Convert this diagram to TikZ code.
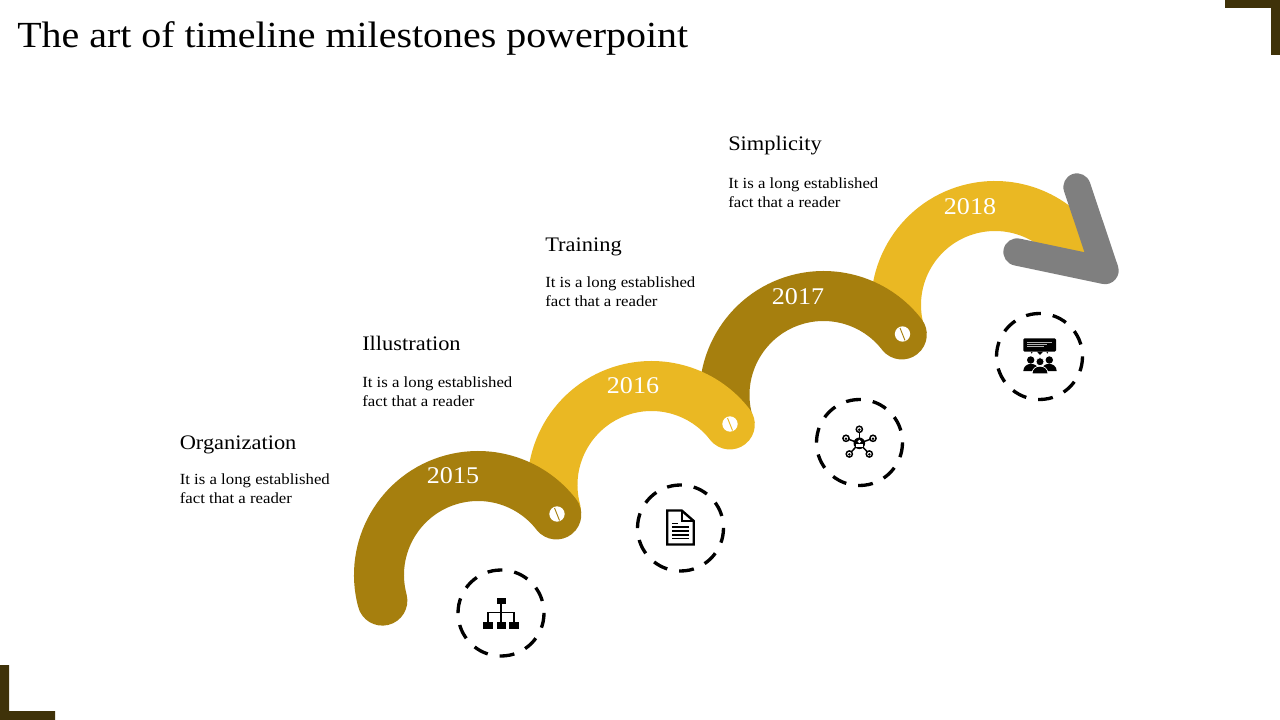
\documentclass[tikz,border=0pt]{standalone}
\usepackage{fontspec}
\setmainfont[FakeStretch=1.085]{Liberation Serif}
\definecolor{darkgold}{HTML}{A67F0E}
\definecolor{lightgold}{HTML}{EAB823}
\definecolor{cornerbrown}{HTML}{3F3209}
\definecolor{arrowgrey}{HTML}{7F7F7F}
\tikzset{
    band/.style={line width=37.5pt, line cap=round},
    pin/.style={circle, fill=white, minimum size=11.5pt, inner sep=0pt},
    slash/.style={line width=0.7pt},
    ring/.style={line width=2.5pt, dash pattern=on 11.2pt off 9.05pt},
    heading/.style={anchor=base west, inner sep=0pt, font=\fontsize{15.5}{18}\selectfont},
    body/.style={anchor=west, inner sep=0pt, align=left, font=\fontsize{11.6}{14.2}\selectfont},
    year/.style={text=white, inner sep=0pt, font=\fontsize{18}{20}\selectfont},
    spoke/.style={line width=1.1pt},
    member/.style={line width=1.1pt, fill=white},
}

\begin{document}
\begin{tikzpicture}[x=0.75pt, y=-0.75pt]
    \useasboundingbox (0,0) rectangle (1280,720);
    \node [anchor=base west, inner sep=0pt, font=\fontsize{27.6}{30}\selectfont] (title) at (17,47.5) {The art of timeline milestones powerpoint};
    % corners
    \fill [cornerbrown] (1225,0) -- (1280,0) -- (1280,55) -- (1271,55) -- (1271,8) -- (1225,8) -- cycle;
    \fill [cornerbrown] (0,665) -- (9,665) -- (9,711) -- (55,711) -- (55,720) -- (0,720) -- cycle;
    % bands, last one first
    \draw [line width=37.5pt, lightgold] (995,305) ++(165:99) arc [start angle=165, end angle=330, radius=99];
    \draw [line width=20.5pt, arrowgrey, line cap=round, line join=round] (1077,187) -- (1105,270.5) -- (1017,252);
    \draw [band, darkgold] (823.5,395) ++(165:99) arc [start angle=165, end angle=322.3, radius=99];
    \draw [band, lightgold] (651.5,485) ++(165:99) arc [start angle=165, end angle=322.3, radius=99];
    \draw [band, darkgold] (478,575) ++(165:99) arc [start angle=165, end angle=322.3, radius=99];
    % pins
    \node [pin] (pin15) at (557,514) {};
    \draw [slash, darkgold] (554.5,508) -- (559.5,520.5);
    \node [pin] (pin16) at (730,424) {};
    \draw [slash, lightgold] (727.5,418) -- (732.5,430.5);
    \node [pin] (pin17) at (902.5,334) {};
    \draw [slash, darkgold] (900,328) -- (905,340.5);
    % years
    \node [year] (y15) at (453,476) {2015};
    \node [year] (y16) at (633,386) {2016};
    \node [year] (y17) at (798,297) {2017};
    \node [year] (y18) at (970,207) {2018};
    % texts
    \node [heading] (org) at (179.5,449) {Organization};
    \node [body] (orgtext) at (179.5,488.5) {It is a long established\\fact that a reader};
    \node [heading] (ill) at (362,350) {Illustration};
    \node [body] (illtext) at (362,391.5) {It is a long established\\fact that a reader};
    \node [heading] (tra) at (545,252) {Training};
    \node [body] (tratext) at (545,291.5) {It is a long established\\fact that a reader};
    \node [heading] (sim) at (728,151) {Simplicity};
    \node [body] (simtext) at (728,192.5) {It is a long established\\fact that a reader};
    % rings
    \draw [ring] (501,613) circle [radius=43];
    \draw [ring] (680.5,528) circle [radius=43];
    \draw [ring] (859.5,442.5) circle [radius=43];
    \draw [ring] (1039.5,356.5) circle [radius=43];
    % organisation chart
    \fill (496.7,598) rectangle (505.7,604);
    \fill (483.3,622.3) rectangle (492.7,628.7);
    \fill (496.7,622.3) rectangle (505.7,628.7);
    \fill (509.3,622.3) rectangle (518.7,628.7);
    \draw [line width=0.8pt] (501,604) -- (501,622.3);
    \draw [line width=0.8pt] (488,622.3) -- (488,612.7) -- (514,612.7) -- (514,622.3);
    % document
    \draw [line width=1.8pt, line join=miter] (681.7,510.5) -- (667.2,510.5) -- (667.2,544.5) -- (693.7,544.5) -- (693.7,521) -- cycle;
    \draw [line width=1.4pt] (681.7,510.5) -- (681.7,521) -- (693.7,521);
    \draw [line width=1.2pt] (672.3,523.3) -- (677.7,523.3);
    \draw [line width=1.2pt] (672.3,527.2) -- (689,527.2);
    \draw [line width=1.2pt] (672.3,531) -- (689,531);
    \draw [line width=1.2pt] (672.3,534.7) -- (689,534.7);
    \draw [line width=1.2pt] (672.3,538.4) -- (689,538.4);
    % network
    \draw [spoke] (859.3,443.3) -- (859.3,429.3);
    \draw [spoke] (859.3,443.3) -- (873,438.3);
    \draw [spoke] (859.3,443.3) -- (869.3,454);
    \draw [spoke] (859.3,443.3) -- (849.3,454);
    \draw [spoke] (859.3,443.3) -- (846,438.3);
    \draw [member] (859.3,429.3) circle [radius=3.1];
    \draw [member] (873,438.3) circle [radius=3.1];
    \draw [member] (869.3,454) circle [radius=3.1];
    \draw [member] (849.3,454) circle [radius=3.1];
    \draw [member] (846,438.3) circle [radius=3.1];
    \fill (859.3,443.3) circle [radius=5.8];
    \fill [white] (859.3,441.5) circle [radius=1.7];
    \fill [white] (855.8,446.8) rectangle (862.8,444.3);
    \fill (859.3,429.7) circle [radius=1.4];
    \fill (873,438.7) circle [radius=1.4];
    \fill (869.3,454.4) circle [radius=1.4];
    \fill (849.3,454.4) circle [radius=1.4];
    \fill (846,438.7) circle [radius=1.4];
    % meeting
    \fill [rounded corners=1pt] (1023.3,338.3) rectangle (1056,351.7);
    \fill (1037,351.7) -- (1043,351.7) -- (1040,355) -- cycle;
    \fill (1031.7,352.7) circle [radius=0.8];
    \fill (1047.3,352.7) circle [radius=0.8];
    \draw [white!70!black, line width=0.7pt] (1027,342) -- (1052,342);
    \draw [white!70!black, line width=0.7pt] (1027,344.3) -- (1047,344.3);
    \draw [white!70!black, line width=0.7pt] (1027,346.6) -- (1044,346.6);
    \fill (1030.7,360) circle [radius=3.7];
    \fill (1049.3,360) circle [radius=3.7];
    \fill (1023.3,371) .. controls (1023.5,361.5) and (1038.5,361.5) .. (1038.7,371) -- cycle;
    \fill (1041.3,371) .. controls (1041.5,361.5) and (1056.5,361.5) .. (1056.7,371) -- cycle;
    \draw [white, fill=black, line width=0.5pt] (1032,373.8) .. controls (1032,363.5) and (1048,363.5) .. (1048,373.8) -- cycle;
    \draw [white, fill=black, line width=0.5pt] (1040,361.7) circle [radius=4];
\end{tikzpicture}
\end{document}
